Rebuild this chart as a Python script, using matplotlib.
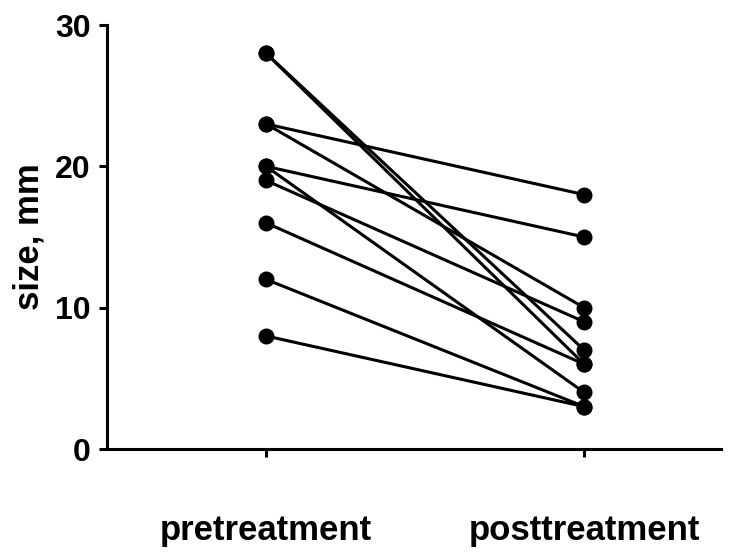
import matplotlib
matplotlib.use("Agg")
import matplotlib.pyplot as plt

plt.rcParams['font.family'] = ['Liberation Sans', 'DejaVu Sans']
plt.rcParams['font.weight'] = 'bold'

groups = ['pretreatment', 'posttreatment']
# paired sizes (mm) for each patient
pre = [28, 28, 23, 23, 20, 20, 19, 16, 12, 8]
post = [7, 6, 18, 10, 15, 4, 9, 6, 3, 3]
yticks = [0, 10, 20, 30]

fig = plt.figure(figsize=(7.38, 5.56), dpi=100)
ax = fig.add_axes([0.145, 0.1924, 0.832, 0.7626])

for a, b in zip(pre, post):
    ax.plot([0, 1], [a, b], color='black', lw=2.2,
            marker='o', markersize=10.5, solid_capstyle='round', zorder=3,
            clip_on=False)

ax.set_xlim(-0.5, 1.43)
ax.set_ylim(0, 30)
ax.set_xticks([0, 1])
ax.set_xticklabels(groups, fontsize=25, fontweight='bold')
ax.set_yticks(yticks)
ax.set_yticklabels([str(v) for v in yticks], fontsize=23, fontweight='bold')
ax.set_ylabel('size, mm', fontsize=25, fontweight='bold')
ax.yaxis.set_label_coords(-0.10, 0.5)

for s in ['top', 'right']:
    ax.spines[s].set_visible(False)
for s in ['left', 'bottom']:
    ax.spines[s].set_linewidth(2.2)
ax.tick_params(axis='both', width=2.2, length=5.8, direction='out')
ax.tick_params(axis='x', pad=41)
ax.tick_params(axis='y', pad=6)

fig.savefig('out.png', dpi=100)
